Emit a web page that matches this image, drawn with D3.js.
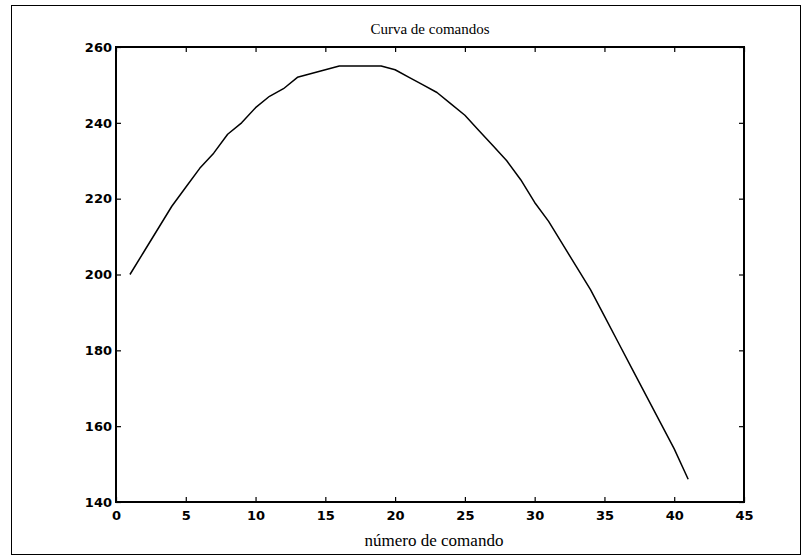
<!DOCTYPE html>
<html>
<head>
<meta charset="utf-8">
<script src="https://cdn.jsdelivr.net/npm/d3@7"></script>
<style>
  html, body { margin: 0; padding: 0; background: #fff; }
  svg { display: block; }
  .tick text { font-family: "DejaVu Sans", "Liberation Sans", sans-serif; font-weight: bold; font-size: 13px; fill: #000; }
</style>
</head>
<body>
<svg id="chart" width="811" height="560"></svg>
<script>
// Command curve: value per command number
const commandNumbers = [1,2,3,4,5,6,7,8,9,10,11,12,13,14,15,16,17,18,19,20,21,22,23,24,25,26,27,28,29,30,31,32,33,34,35,36,37,38,39,40,41];
const commandValues = [200,206,212,218,223,228,232,237,240,244,247,249,252,253,254,255,255,255,255,254,252,250,248,245,242,238,234,230,225,219,214,208,202,196,189,182,175,168,161,154,146];
const xTicks = [0,5,10,15,20,25,30,35,40,45];
const yTicks = [140,160,180,200,220,240,260];
const titleText = "Curva de comandos";
const xLabelText = "número de comando";

const svg = d3.select("#chart");
const plot = { left: 116, right: 744, top: 47, bottom: 502 };

// outer frame
svg.append("rect")
  .attr("x", 11.5).attr("y", 5.5)
  .attr("width", 789).attr("height", 549)
  .attr("fill", "none").attr("stroke", "#000").attr("stroke-width", 1);

const x = d3.scaleLinear().domain([0, 45]).range([plot.left, plot.right]);
const y = d3.scaleLinear().domain([140, 260]).range([plot.bottom, plot.top]);

const tickLen = 5;

// bottom axis with labels, ticks pointing inward
const gx = svg.append("g").attr("transform", `translate(0,${plot.bottom})`)
  .call(d3.axisBottom(x).tickValues(xTicks).tickFormat(d3.format("d")).tickSize(-tickLen).tickPadding(9));
// left axis with labels
const gy = svg.append("g").attr("transform", `translate(${plot.left},0)`)
  .call(d3.axisLeft(y).tickValues(yTicks).tickFormat(d3.format("d")).tickSize(-tickLen).tickPadding(4));
// top and right axes: ticks only
const gxt = svg.append("g").attr("transform", `translate(0,${plot.top})`)
  .call(d3.axisTop(x).tickValues(xTicks).tickFormat("").tickSize(-tickLen));
const gyr = svg.append("g").attr("transform", `translate(${plot.right},0)`)
  .call(d3.axisRight(y).tickValues(yTicks).tickFormat("").tickSize(-tickLen));

[gx, gy, gxt, gyr].forEach(g => {
  g.select(".domain").remove();
  g.selectAll(".tick line").attr("stroke", "#000").attr("stroke-width", 1.2);
});

// plot box
svg.append("rect")
  .attr("x", plot.left).attr("y", plot.top)
  .attr("width", plot.right - plot.left).attr("height", plot.bottom - plot.top)
  .attr("fill", "none").attr("stroke", "#000").attr("stroke-width", 2);

// curve
const line = d3.line()
  .x((d, i) => x(commandNumbers[i]))
  .y(d => y(d));
svg.append("path")
  .datum(commandValues)
  .attr("d", line)
  .attr("fill", "none")
  .attr("stroke", "#000")
  .attr("stroke-width", 1.5)
  .attr("stroke-linejoin", "round");

// title and axis label
svg.append("text")
  .attr("x", (plot.left + plot.right) / 2).attr("y", 34)
  .attr("text-anchor", "middle")
  .attr("font-family", "'Liberation Serif', 'Times New Roman', serif")
  .attr("font-size", 15)
  .text(titleText);
svg.append("text")
  .attr("x", 434).attr("y", 546)
  .attr("text-anchor", "middle")
  .attr("font-family", "'Liberation Serif', 'Times New Roman', serif")
  .attr("font-size", 17)
  .text(xLabelText);
</script>
</body>
</html>
